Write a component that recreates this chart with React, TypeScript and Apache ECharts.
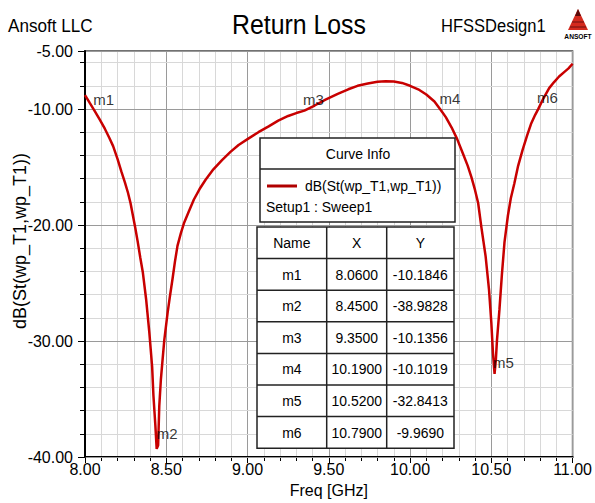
import React, { useEffect, useRef } from "react";
import * as echarts from "echarts";

const freqGHz = [
  8.0, 8.03, 8.06, 8.09, 8.122, 8.15, 8.173, 8.2, 8.224, 8.245, 8.264, 8.28, 8.295, 8.31, 8.325, 8.34,
  8.356, 8.376, 8.396, 8.413, 8.421, 8.433, 8.441, 8.45, 8.457, 8.467, 8.478, 8.488, 8.508, 8.523, 8.538,
  8.553, 8.569, 8.59, 8.61, 8.64, 8.67, 8.705, 8.742, 8.79, 8.843, 8.895, 8.945, 9.0, 9.067, 9.13, 9.189,
  9.25, 9.3, 9.35, 9.413, 9.48, 9.555, 9.62, 9.677, 9.74, 9.8, 9.85, 9.9, 9.95, 10.0, 10.05, 10.1, 10.15,
  10.19, 10.22, 10.256, 10.29, 10.327, 10.355, 10.378, 10.4, 10.419, 10.439, 10.465, 10.486, 10.5, 10.51,
  10.52, 10.528, 10.535, 10.55, 10.565, 10.581, 10.602, 10.62, 10.642, 10.665, 10.693, 10.72, 10.744, 10.77,
  10.79, 10.82, 10.856, 10.885, 10.917, 10.95, 10.975, 11.0,
];
const returnLossDb = [
  -8.8, -9.5, -10.18, -10.9, -11.7, -12.5, -13.2, -14.3, -15.4, -16.3, -17.2, -18.1, -19.2, -20.3, -21.5, -22.8,
  -24.1, -26.4, -29.3, -32.2, -34.7, -37.3, -39.3, -38.98, -35.6, -33.3, -31.5, -29.9, -27.6, -26.1, -24.7,
  -23.2, -21.8, -20.7, -19.8, -18.8, -17.8, -16.9, -16.1, -15.2, -14.4, -13.7, -13.1, -12.6, -12.0, -11.5, -11.0,
  -10.6, -10.35, -10.14, -9.7, -9.2, -8.7, -8.3, -8.0, -7.8, -7.65, -7.6, -7.63, -7.75, -8.0, -8.3, -8.75, -9.35,
  -10.1, -10.7, -11.6, -12.6, -13.9, -14.9, -15.9, -17.0, -18.1, -20.2, -22.7, -25.6, -28.4, -31.0,
  -32.84, -31.6, -29.9, -27.3, -24.3, -21.5, -19.2, -17.7, -16.4, -14.9, -13.5, -12.3, -11.3, -10.5,
  -9.97, -9.1, -8.2, -7.7, -7.2, -6.8, -6.5, -6.1,
];

const markerNames = ["m1", "m2", "m3", "m4", "m5", "m6"];
const markerFreq = [8.06, 8.45, 9.35, 10.19, 10.52, 10.79];
const markerDb = [-10.1846, -38.9828, -10.1356, -10.1019, -32.8413, -9.969];

const tableHeaders = ["Name", "X", "Y"];
const titleText = "Return Loss";
const companyText = "Ansoft LLC";
const designText = "HFSSDesign1";
const traceName = "dB(St(wp_T1,wp_T1))";
const setupName = "Setup1 : Sweep1";

const FONT = "'Liberation Sans', Arial, sans-serif";

function txt(text: string, x: number, y: number, size: number, align: string, scaleX = 0.9, extra: any = {}) {
  return {
    type: "text",
    x,
    y,
    scaleX,
    z: 101,
    style: {
      text,
      x: 0,
      y: 0,
      fill: "#000",
      fontSize: size,
      fontFamily: FONT,
      align,
      verticalAlign: "middle",
      ...extra,
    },
  };
}

function buildGraphics() {
  const g: any[] = [];
  // header
  g.push(txt(companyText, 8, 26, 19, "left", 0.9));
  g.push(txt(titleText, 299, 25, 27, "center", 0.92));
  g.push(txt(designText, 441, 26, 19, "left", 0.87));
  // logo
  g.push({ type: "polygon", z: 101, shape: { points: [[578, 9], [568, 30], [588, 30]] }, style: { fill: "#d42a1e" } });
  g.push({ type: "polygon", z: 102, shape: { points: [[578, 9], [575, 16], [581, 16]] }, style: { fill: "#5a0a0a" } });
  g.push({ type: "line", z: 102, shape: { x1: 572, y1: 22, x2: 584, y2: 22 }, style: { stroke: "#6a1010", lineWidth: 1 } });
  g.push({ type: "line", z: 102, shape: { x1: 570, y1: 27, x2: 586, y2: 27 }, style: { stroke: "#6a1010", lineWidth: 1 } });
  g.push(txt("ANSOFT", 578, 36, 7, "center", 0.95, { fontWeight: "bold" }));
  // y axis name
  g.push({
    type: "text",
    x: 20,
    y: 241,
    rotation: Math.PI / 2,
    z: 101,
    style: { text: traceName, x: 0, y: 0, fill: "#000", fontSize: 18, fontFamily: FONT, align: "center", verticalAlign: "middle" },
  });
  // curve info box
  g.push({ type: "rect", z: 100, shape: { x: 260, y: 138, width: 195, height: 84 }, style: { fill: "#fff", stroke: "#222", lineWidth: 1.5 } });
  g.push({ type: "line", z: 101, shape: { x1: 260, y1: 169, x2: 455, y2: 169 }, style: { stroke: "#222", lineWidth: 1.5 } });
  g.push(txt("Curve Info", 358, 154, 15.5, "center"));
  g.push({ type: "line", z: 101, shape: { x1: 267, y1: 186, x2: 297, y2: 186 }, style: { stroke: "#b00000", lineWidth: 3 } });
  g.push(txt(traceName, 305, 186, 15.5, "left"));
  g.push(txt(setupName, 266, 207, 15.5, "left"));
  // table
  const tx = [257, 326.7, 386.7, 454];
  const top = 227;
  const rowH = 31.6;
  const rows = markerNames.length + 1;
  g.push({ type: "rect", z: 100, shape: { x: tx[0], y: top, width: tx[3] - tx[0], height: rowH * rows }, style: { fill: "#fff", stroke: "#222", lineWidth: 1.5 } });
  for (let r = 1; r < rows; r++) {
    g.push({ type: "line", z: 101, shape: { x1: tx[0], y1: top + r * rowH, x2: tx[3], y2: top + r * rowH }, style: { stroke: "#222", lineWidth: 1.5 } });
  }
  for (let c = 1; c < 3; c++) {
    g.push({ type: "line", z: 101, shape: { x1: tx[c], y1: top, x2: tx[c], y2: top + rows * rowH }, style: { stroke: "#222", lineWidth: 1.5 } });
  }
  const cx = [0, 1, 2].map((c) => (tx[c] + tx[c + 1]) / 2);
  tableHeaders.forEach((h, c) => g.push(txt(h, cx[c], top + rowH / 2, 15.5, "center")));
  markerNames.forEach((name, i) => {
    const y = top + (i + 1.5) * rowH;
    g.push(txt(name, cx[0], y, 15.5, "center"));
    g.push(txt(markerFreq[i].toFixed(4), cx[1], y, 15.5, "center"));
    g.push(txt(markerDb[i].toFixed(4), cx[2], y, 15.5, "center"));
  });
  return g;
}

export default function App() {
  const ref = useRef<HTMLDivElement>(null);
  useEffect(() => {
    if (!ref.current) return;
    const chart = echarts.init(ref.current, null, { renderer: "svg" });
    const curve = freqGHz.map((f, i) => [f, returnLossDb[i]]);
    const markers = markerNames.map((n, i) => ({ value: [markerFreq[i], markerDb[i]], name: n }));
    chart.setOption({
      animation: false,
      backgroundColor: "#fff",
      textStyle: { fontFamily: FONT },
      grid: { left: 85, right: 18, top: 51, bottom: 46, show: true, borderColor: "#444", borderWidth: 1.5, containLabel: false },
      xAxis: {
        type: "value",
        min: 8,
        max: 11,
        interval: 0.5,
        name: "Freq [GHz]",
        nameLocation: "middle",
        nameGap: 25,
        nameTextStyle: { fontSize: 16, color: "#000", fontFamily: FONT },
        axisLine: { show: true, onZero: false, lineStyle: { color: "#000", width: 2 } },
        axisTick: { show: true, length: 6, lineStyle: { color: "#000" } },
        minorTick: { show: true, splitNumber: 5, length: 4, lineStyle: { color: "#000" } },
        axisLabel: { fontSize: 16, color: "#000", margin: 4, fontFamily: FONT, formatter: (v: number) => v.toFixed(2) },
        splitLine: { show: true, lineStyle: { color: "#9a9a9a", width: 1 } },
        minorSplitLine: { show: true, lineStyle: { color: "#d8d8d8", width: 1 } },
      },
      yAxis: [
        {
          type: "value",
          min: -40,
          max: -5,
          interval: 10,
          position: "left",
          z: 3,
          axisLine: { show: true, onZero: false, lineStyle: { color: "#000", width: 2 } },
          axisTick: { show: true, length: 7, lineStyle: { color: "#000" } },
          axisLabel: { fontSize: 16, color: "#000", margin: 12, fontFamily: FONT, formatter: (v: number) => v.toFixed(2) },
          splitLine: { show: true, lineStyle: { color: "#9a9a9a", width: 1 } },
        },
        {
          type: "value",
          min: -40,
          max: -5,
          interval: 2,
          position: "left",
          z: 1,
          axisLine: { show: false },
          axisTick: { show: true, length: 5, lineStyle: { color: "#000" } },
          axisLabel: { show: false },
          splitLine: { show: true, lineStyle: { color: "#d8d8d8", width: 1 } },
        },
      ],
      series: [
        {
          type: "line",
          name: traceName,
          data: curve,
          yAxisIndex: 0,
          showSymbol: false,
          symbol: "none",
          z: 5,
          lineStyle: { color: "#c80000", width: 2.5 },
        },
        {
          type: "scatter",
          name: "markers",
          data: markers,
          yAxisIndex: 0,
          symbolSize: 1,
          z: 6,
          itemStyle: { color: "rgba(0,0,0,0)" },
          label: {
            show: true,
            formatter: (p: any) => p.name,
            position: [-1, -11],
            align: "left",
            verticalAlign: "middle",
            fontSize: 15,
            color: "#000",
            fontFamily: FONT,
          },
        },
      ],
      graphic: { elements: buildGraphics() },
    });
    return () => chart.dispose();
  }, []);
  return <div ref={ref} style={{ position: "fixed", left: 0, top: 0, width: 595, height: 503 }} />;
}
